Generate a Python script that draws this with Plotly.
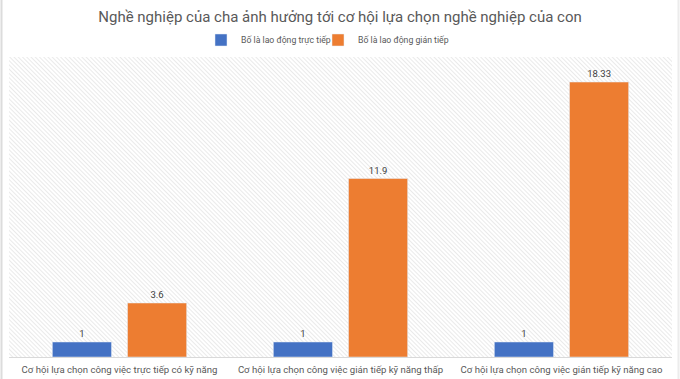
import base64
import plotly.graph_objects as go

categories = [
    "Cơ hội lựa chọn công việc trực tiếp có kỹ năng",
    "Cơ hội lựa chọn công việc gián tiếp kỹ năng thấp",
    "Cơ hội lựa chọn công việc gián tiếp kỹ năng cao",
]
series_names = ["Bố là lao động trực tiếp", "Bố là lao động gián tiếp"]
direct_values = [1, 1, 1]
indirect_values = [3.6, 11.9, 18.33]
direct_labels = ["1", "1", "1"]
indirect_labels = ["3.6", "11.9", "18.33"]
title_text = "Nghề nghiệp của cha ảnh hưởng tới cơ hội lựa chọn nghề nghiệp của con"

W, H = 680, 379
ml, mr, mt, mb = 9, 8, 57, 22
pw, ph = W - ml - mr, H - mt - mb

svg = (
    f'<svg xmlns="http://www.w3.org/2000/svg" width="{pw}" height="{ph}">'
    '<defs><pattern id="p" width="3" height="3" patternUnits="userSpaceOnUse" '
    'patternTransform="rotate(-45)"><rect width="3" height="3" fill="#ffffff"/>'
    '<line x1="0" y1="0" x2="0" y2="3" stroke="#e2e2e2" stroke-width="1.4"/></pattern></defs>'
    f'<rect width="{pw}" height="{ph}" fill="url(#p)"/></svg>'
)
svg_uri = "data:image/svg+xml;base64," + base64.b64encode(svg.encode()).decode()

font = "Roboto, sans-serif"

fig = go.Figure()
fig.add_trace(go.Bar(
    x=categories, y=direct_values, name=series_names[0], legend="legend",
    marker_color="#4472C4", text=direct_labels, textposition="outside",
    textfont=dict(size=9.5, color="#404040", family=font), cliponaxis=False,
))
fig.add_trace(go.Bar(
    x=categories, y=indirect_values, name=series_names[1], legend="legend2",
    marker_color="#ED7D31", text=indirect_labels, textposition="outside",
    textfont=dict(size=9.5, color="#404040", family=font), cliponaxis=False,
))

legend_common = dict(orientation="h", xref="container", yref="container", xanchor="left",
                     y=1 - 40 / H, yanchor="middle", itemwidth=30,
                     font=dict(size=8.7, color="#595959", family=font),
                     bgcolor="rgba(0,0,0,0)")

fig.update_layout(
    width=W, height=H,
    margin=dict(l=ml, r=mr, t=mt, b=mb, autoexpand=False),
    paper_bgcolor="white", plot_bgcolor="rgba(0,0,0,0)",
    barmode="group", bargap=0.32, bargroupgap=0.213,
    title=dict(text=title_text, x=0.5, xanchor="center", y=1 - 17 / H, yanchor="middle",
               font=dict(size=15, color="#595959", family=font)),
    legend=dict(legend_common, x=201 / W),
    legend2=dict(legend_common, x=318 / W),
    showlegend=True,
    xaxis=dict(showgrid=False, showline=True, linecolor="#d9d9d9", ticks="",
               tickangle=0, automargin=False, ticklabelstandoff=3,
               tickfont=dict(size=9.6, color="#595959", family=font)),
    yaxis=dict(range=[0, 20], showgrid=False, showticklabels=False, zeroline=False,
               showline=False, automargin=False),
    images=[dict(source=svg_uri, xref="paper", yref="paper", x=0, y=1, sizex=1, sizey=1,
                 xanchor="left", yanchor="top", sizing="stretch", layer="below")],
    shapes=[
        dict(type="line", xref="paper", yref="paper",
             x0=-(ml - 1.5) / pw, x1=-(ml - 1.5) / pw, y0=-(mb) / ph, y1=1 + mt / ph,
             line=dict(color="#dcdcdc", width=2)),
        dict(type="line", xref="paper", yref="paper",
             x0=1 + (mr - 1.5) / pw, x1=1 + (mr - 1.5) / pw, y0=-(mb) / ph, y1=1 + mt / ph,
             line=dict(color="#ececec", width=2)),
    ],
)

fig.write_html("out.html", config={"displayModeBar": False},
               post_script="document.body.style.margin='0';")
